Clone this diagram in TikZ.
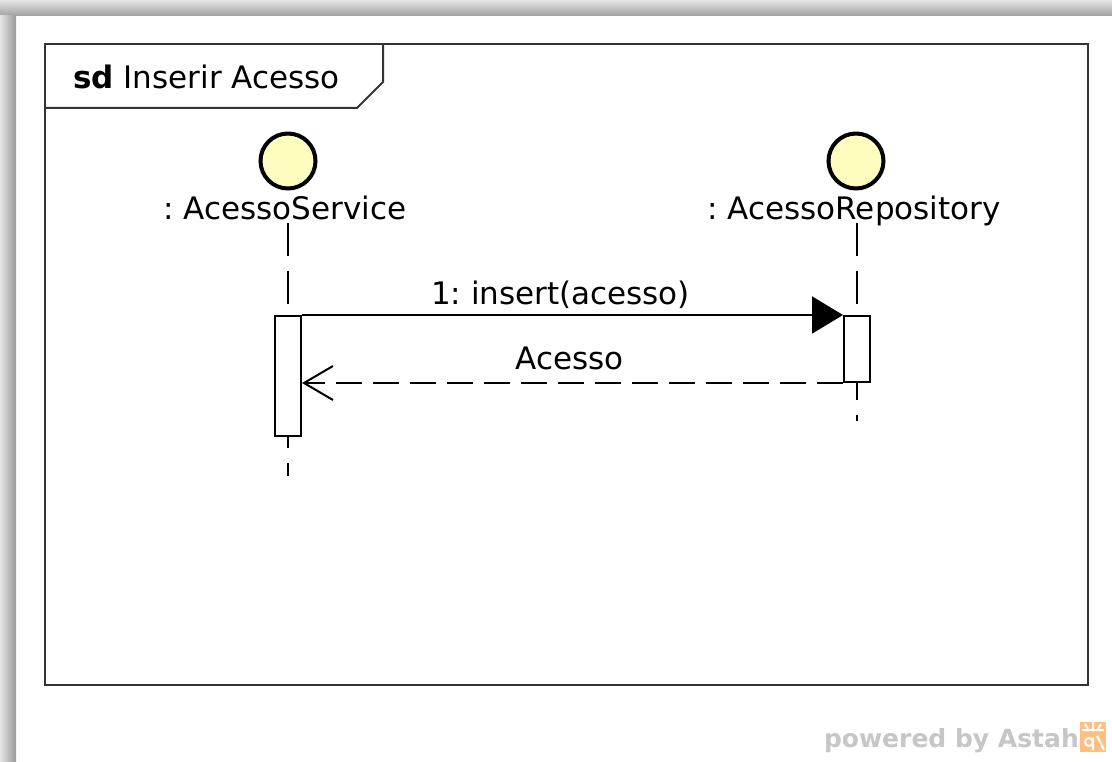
\documentclass[tikz,border=0pt]{standalone}
\usepackage{fontspec}
\setmainfont{DejaVu Sans}
\usetikzlibrary{arrows.meta}
\frenchspacing

\begin{document}
\begin{tikzpicture}[
  x=1pt, y=-1pt,
  font=\fontsize{31}{37}\selectfont,
  frameline/.style={draw=black!80, line width=2pt},
  head/.style={circle, draw=black, line width=4pt, fill=yellow!25, minimum size=55pt, inner sep=0pt},
  lbl/.style={anchor=base, inner sep=0pt},
  actbox/.style={draw, fill=white, line width=2pt, minimum width=26pt, inner sep=0pt},
  lifeline/.style={line width=2pt, dash pattern=on 33pt off 15pt},
  call/.style={line width=2pt, -{Triangle[length=31pt, width=37pt]}},
  reply/.style={line width=2pt, dash pattern=on 26pt off 11pt, -{Straight Barb[length=29pt, width=34pt, line width=2pt]}}
]
\useasboundingbox (0,0) rectangle (1112,762);
\fill[white] (0,0) rectangle (1112,762);
\shade[top color=gray!20, bottom color=gray!75] (0,0) rectangle (1112,16);
\shade[left color=gray!20, right color=gray!80] (0,16) rectangle (16,762);

% frame
\draw[frameline] (45,44) rectangle (1088,685);
\draw[frameline] (45,108) -- (357,108) -- (383,82) -- (383,44);
\node[anchor=base west, inner sep=0pt] (title) at (73,89) {\textbf{sd} Inserir Acesso};

% lifelines
\node[head] (svc) at (288,161) {};
\node[head] (repo) at (856,161) {};
\node[lbl] (svclbl) at (285,220) {: AcessoService};
\node[lbl] (repolbl) at (854,220) {: AcessoRepository};
\coordinate (svctop) at (288,223);
\coordinate (svcend) at (288,476);
\coordinate (repotop) at (857,223);
\coordinate (repoend) at (857,421);
\draw[lifeline] (svctop) -- (svcend);
\draw[lifeline] (repotop) -- (repoend);

\node[actbox, minimum height=120pt] (svcact) at (288,376) {};
\node[actbox, minimum height=66pt] (repoact) at (857,349) {};

% messages
\draw[call] (svcact.north east) -- node[lbl, above=5pt, xshift=-12pt] (m1) {1: insert(acesso)} (repoact.north west);
\draw[reply] (repoact.south west) -- node[lbl, above=12pt, xshift=-3pt] (m2) {Acesso} (repoact.south west -| svcact.east);

% footer
\node[anchor=base east, inner sep=0pt, text=gray!45, font=\fontsize{25}{29}\selectfont\bfseries] (pow) at (1079,747) {powered by Astah};
\fill[orange!50!white] (1080,722) rectangle (1106,752) coordinate (logo);
\draw[white, line width=2pt] (1082,730) -- (1104,730) (1093,722) -- (1093,730) (1085,724) -- (1088,729) (1101,724) -- (1098,729) (1097,736) -- (1104,750);
\draw[white, line width=2pt] (1089,742) circle (4pt) (1093,737) -- (1093,750);
\end{tikzpicture}
\end{document}
